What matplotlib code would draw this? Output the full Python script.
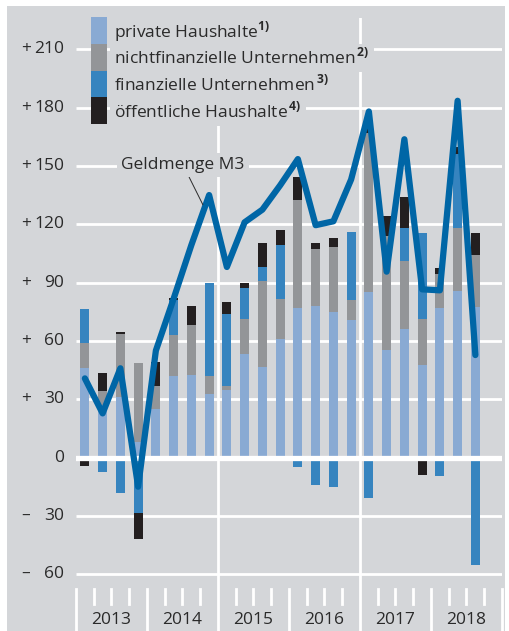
import numpy as np
import matplotlib
matplotlib.use("Agg")
import matplotlib.pyplot as plt
from matplotlib.patches import Rectangle

plt.rcParams['font.family'] = ['Open Sans', 'DejaVu Sans']
plt.rcParams['mathtext.fontset'] = 'custom'
plt.rcParams['mathtext.rm'] = 'Open Sans'
plt.rcParams['mathtext.bf'] = 'Open Sans:bold'

#%% data (Mrd Euro, quarterly, 2013 Q1 - 2018 Q3)
years = ["2013", "2014", "2015", "2016", "2017", "2018"]
private_hh = [46, 27, 31.3, 8.1, 24.8, 41.9, 42.4, 32.7, 34.7, 53.1, 46.4, 60.8,
              76.7, 78, 74.7, 70.7, 85.3, 55.3, 65.9, 47.6, 76.7, 85.6, 77.6]
nonfin_corp = [12.7, 7.3, 32.2, 40.5, 12, 21.1, 25.8, 9.2, 2.1, 18.1, 44.6, 20.7,
               55.8, 29.3, 33.4, 10.3, 81.5, 58.7, 35.2, 23.5, 17.7, 32.3, 26.6]
fin_corp = [17.5, -7.5, -18.1, -28.4, 0, 18, 0, 48, 37, 15.8, 7.2, 27.8,
            -5, -14.1, -15, 34.8, -21, 0, 16.8, 44.2, -9.5, 38, -55.3]
public_hh = [-4.4, 9, 1.2, -13.7, 12.5, 0.8, 9.9, 0, 6.3, 2.6, 12.3, 7.7,
             11.9, 3.2, 4.6, 0, 6.5, 10.2, 15.9, -9, 2.9, 4, 11.4]
m3 = [40.7, 22.7, 45.9, -15, 55, 81.7, 109.3, 135, 98, 121, 127.5, 140,
      153.5, 119.5, 121.5, 143, 178, 95.6, 163.7, 86.5, 86, 183.5, 52.7]

labels = [r"private Haushalte$^{\mathbf{1)}}$",
          r"nichtfinanzielle Unternehmen$^{\mathbf{\,2)}}$",
          r"finanzielle Unternehmen$^{\mathbf{\,3)}}$",
          r"öffentliche Haushalte$^{\mathbf{\,4)}}$"]
colors = ["#89aad3", "#939598", "#3684bf", "#231f20"]

bg = "#d4d6d9"
txt = "#2a2a2a"
W, H = 510, 631

def fx(px):
    return px / W

def fy(px):
    return 1 - px / H

fig = plt.figure(figsize=(5.1, 6.31), dpi=100, facecolor="white")
fig.patches.append(Rectangle((fx(7), 0), fx(505) - fx(7), fy(6), transform=fig.transFigure,
                             facecolor=bg, edgecolor="none", zorder=-10))
ax = fig.add_axes([fx(76), 0, fx(502) - fx(76), fy(18)])
ax.set_zorder(1)
ax.set_facecolor(bg)
for s in ax.spines.values():
    s.set_visible(False)
ax.set_xticks([])
ax.set_yticks([])

n = len(m3)
x = np.arange(n)
ymin, ymax = (457.5 - 631) / 1.944, (457.5 - 18) / 1.944
ax.set_xlim(-0.5, 23.5)
ax.set_ylim(ymin, ymax)
axis_top = (457.5 - 589) / 1.944

# grid
for v in range(-60, 211, 30):
    if v != 0:
        ax.plot([-0.5, 23.5], [v, v], color="white", lw=2, zorder=1, solid_capstyle="butt")
for v in [7.5, 15.5]:
    ax.plot([v, v], [ymin, ymax], color="white", lw=2, zorder=1)

# stacked bars
pos = np.zeros(n)
neg = np.zeros(n)
for vals, c in zip([private_hh, nonfin_corp, fin_corp, public_hh], colors):
    vals = np.array(vals, dtype=float)
    bottom = np.where(vals >= 0, pos, neg)
    ax.bar(x, vals, 0.5, bottom=bottom, color=c, zorder=2, linewidth=0)
    pos = pos + np.where(vals > 0, vals, 0)
    neg = neg + np.where(vals < 0, vals, 0)

ax.axhline(0, color="white", lw=3.8, zorder=3)
ax.plot(x, m3, color="#0066a6", lw=4.5, zorder=4, solid_joinstyle="round", solid_capstyle="round")

# x axis area
for k in range(25):
    if k % 4 == 0:
        if k not in (8, 16):
            ax.plot([k - 0.5, k - 0.5], [axis_top, ymin], color="white", lw=2, zorder=1, clip_on=False)
    else:
        ax.plot([k - 0.5, k - 0.5], [axis_top, (457.5 - 604) / 1.944], color="white", lw=2, zorder=1)
for i, y in enumerate(years):
    ax.text(4 * i + 1.5, (457.5 - 620) / 1.944, y, ha="center", va="center", fontsize=12.5, color=txt)

# y tick labels
tr = ax.get_yaxis_transform()
for v in range(-60, 211, 30):
    if v == 0:
        ax.text((64 - 76) / 426, v, "0", transform=tr, ha="right", va="center", fontsize=12.5, color=txt)
        continue
    sign = "+" if v > 0 else "–"
    ax.text((26 - 76) / 426, v, sign, transform=tr, ha="center", va="center", fontsize=12.5, color=txt)
    ax.text((64 - 76) / 426, v, str(abs(v)), transform=tr, ha="right", va="center", fontsize=12.5, color=txt)

# legend
rows = [17, 44, 70.5, 97, 124]
for i in range(4):
    fig.patches.append(Rectangle((fx(91), fy(rows[i + 1])), fx(107) - fx(91), fy(rows[i]) - fy(rows[i + 1]),
                                 transform=fig.transFigure, facecolor=colors[i], edgecolor="none", zorder=5))
    fig.text(fx(114), fy((rows[i] + rows[i + 1]) / 2 + 1), labels[i], ha="left", va="center",
             fontsize=12.5, color=txt, zorder=6,
             bbox=dict(facecolor=bg, edgecolor="none", pad=3))

# annotation
ax.annotate("Geldmenge M3", xy=(6.65, 130), xytext=(5.53, 150.5), ha="center", va="center",
            fontsize=12.5, color=txt, zorder=5,
            bbox=dict(facecolor=bg, edgecolor="none", pad=3),
            arrowprops=dict(arrowstyle="-", lw=0.7, color=txt, shrinkA=0, shrinkB=0))

fig.savefig("out.png", dpi=100, facecolor="white")
